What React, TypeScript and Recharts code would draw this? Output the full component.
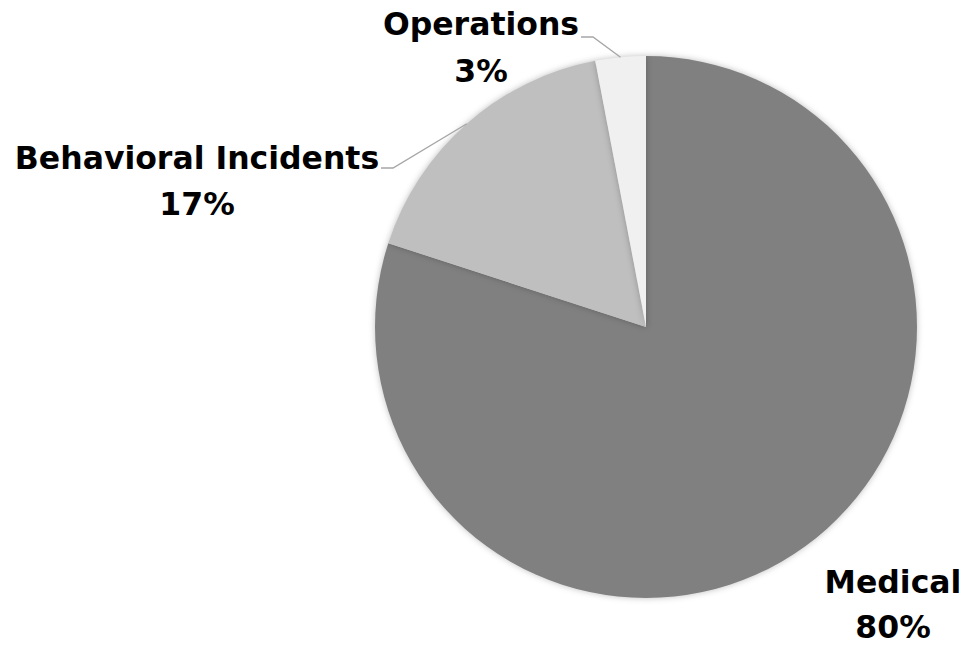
import { PieChart, Pie, Cell } from 'recharts'

const categories = ['Medical', 'Behavioral Incidents', 'Operations']
const values = [80, 17, 3]
const colors = ['#808080', '#bfbfbf', '#f0f0f0']

// label centre / first baseline offsets from the pie centre; tail = end of the leader line (null = no leader)
const LABEL_OFFSET = [
  { dx: 247, dy: 266, gap: 45, tail: null as null | { dx: number; dy: number } },
  { dx: -449, dy: -158, gap: 46, tail: { dx: 184, dy: -1 } },
  { dx: -165, dy: -292, gap: 47, tail: { dx: 100, dy: 2 } },
]

const data = categories.map((name, i) => ({ name, value: values[i] }))

const FONT = '"DejaVu Sans", sans-serif'

function renderLabel(p: any) {
  const { cx, cy, midAngle, outerRadius, percent, index, name } = p
  const o = LABEL_OFFSET[index]
  const rad = Math.PI / 180
  const lx = cx + o.dx
  const ly = cy + o.dy
  let leader = null
  if (o.tail) {
    const ex = cx + outerRadius * Math.cos(-midAngle * rad)
    const ey = cy + outerRadius * Math.sin(-midAngle * rad)
    const bx = lx + o.tail.dx
    const by = ly + o.tail.dy
    leader = <polyline points={`${ex},${ey} ${bx + 12},${by} ${bx},${by}`} fill="none" stroke="#a6a6a6" strokeWidth={1.3} />
  }
  return (
    <g key={`lbl-${index}`}>
      {leader}
      <text x={lx} y={ly} textAnchor="middle" fontFamily={FONT} fontWeight="bold" fontSize={31.5} fill="#000">
        <tspan x={lx} dy={0}>{name}</tspan>
        <tspan x={lx} dy={o.gap}>{Math.round(percent * 100)}%</tspan>
      </text>
    </g>
  )
}

export default function App() {
  return (
    <div style={{ width: 966, height: 647, background: '#fff' }}>
      <style>{`body{margin:0}`}</style>
      <PieChart width={966} height={647} margin={{ top: 0, right: 0, bottom: 0, left: 0 }}>
        <Pie
          data={data}
          dataKey="value"
          nameKey="name"
          cx={646}
          cy={327}
          outerRadius={271}
          startAngle={90}
          endAngle={-270}
          stroke="none"
          labelLine={false}
          label={renderLabel}
          isAnimationActive={false}
          style={{ filter: 'drop-shadow(0 0 3px rgba(0,0,0,0.25))' }}
        >
          {data.map((d, i) => <Cell key={d.name} fill={colors[i]} />)}
        </Pie>
      </PieChart>
    </div>
  )
}
